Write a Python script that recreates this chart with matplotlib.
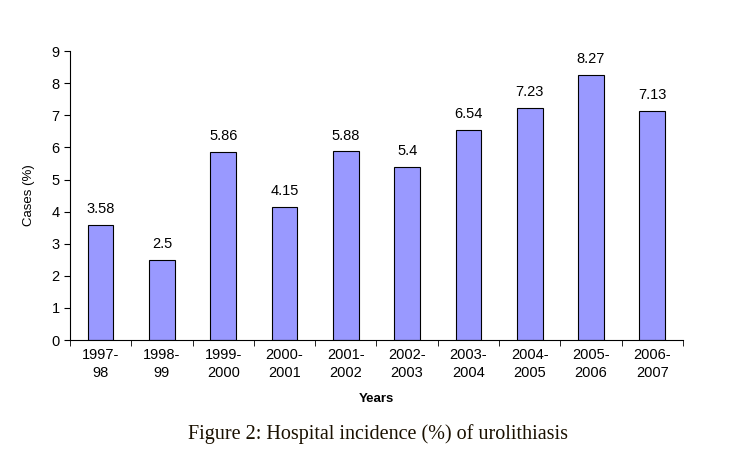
import numpy as np
import matplotlib.pyplot as plt

years = ['1997-\n98', '1998-\n99', '1999-\n2000', '2000-\n2001', '2001-\n2002',
         '2002-\n2003', '2003-\n2004', '2004-\n2005', '2005-\n2006', '2006-\n2007']
cases = [3.58, 2.5, 5.86, 4.15, 5.88, 5.4, 6.54, 7.23, 8.27, 7.13]
value_labels = ['3.58', '2.5', '5.86', '4.15', '5.88', '5.4', '6.54', '7.23', '8.27', '7.13']

plt.rcParams['font.family'] = 'Liberation Sans'

fig = plt.figure(figsize=(7.35, 4.69), dpi=100)
ax = fig.add_axes([0.0952, 0.275, 0.834, 0.616])

x = np.arange(len(cases))
ax.bar(x, cases, width=0.42, color='#9999FF', edgecolor='black', linewidth=0.8)
for xi, v, lab in zip(x, cases, value_labels):
    ax.text(xi, v + 0.27, lab, ha='center', va='bottom', fontsize=10.5)

ax.set_xlim(-0.5, len(cases) - 0.5)
ax.set_ylim(0, 9)
ax.set_yticks(range(10))
ax.set_xticks(x)
ax.set_xticklabels(years, fontsize=10.5, linespacing=1.35)
ax.tick_params(axis='x', length=0, pad=6)
ax.set_xticks(np.arange(-0.5, len(cases), 1), minor=True)
ax.tick_params(axis='x', which='minor', length=4, direction='out')
ax.tick_params(axis='y', labelsize=10.5, length=4, direction='out')
ax.spines['top'].set_visible(False)
ax.spines['right'].set_visible(False)

ax.set_ylabel('Cases (%)', fontsize=9.5, labelpad=12)
ax.set_xlabel('Years', fontsize=9.5, fontweight='bold', labelpad=9)

fig.text(0.514, 0.075, 'Figure 2: Hospital incidence (%) of urolithiasis',
         ha='center', va='center', fontsize=14.5, family='Liberation Serif', color='#1a1000')

plt.savefig('out.png', dpi=100)
